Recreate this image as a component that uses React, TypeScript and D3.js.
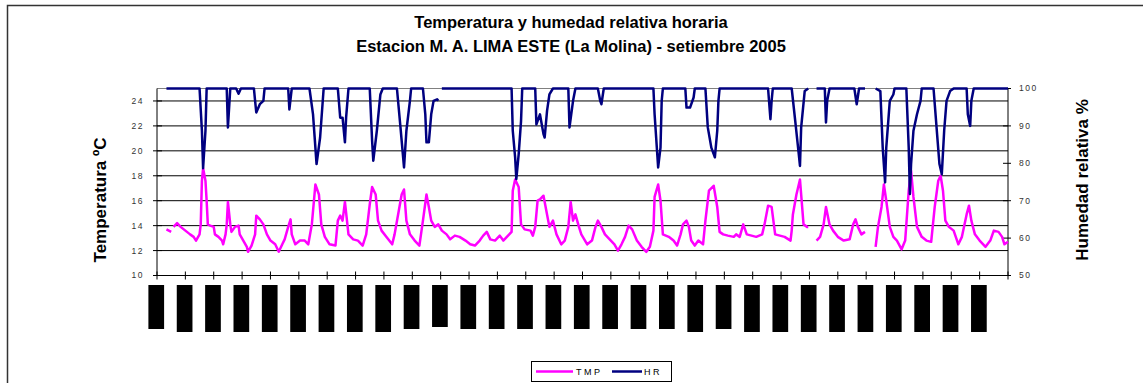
import React from 'react';
import * as d3 from 'd3';

const W = 1143;
const H = 383;

// Hourly samples (hour of month, 0..720); null = missing data
const tmpHours = [8, 12, 13, 14, 17, 20, 24, 28, 31, 33, 36, 37, 38, 39, 41, 42, 43, 45, 48, 49, 52, 55, 56, 58, 59, 60, 62, 63, 66, 69, 70, 73, 76, 77, 80, 83, 84, 87, 90, 93, 96, 100, 103, 106, 108, 111, 113, 114, 117, 121, 125, 128, 131, 134, 137, 139, 142, 146, 151, 153, 155, 157, 159, 162, 166, 170, 174, 177, 180, 182, 185, 187, 190, 194, 199, 201, 204, 207, 209, 211, 214, 218, 222, 225, 228, 230, 232, 235, 238, 241, 245, 248, 252, 256, 261, 265, 269, 273, 276, 279, 282, 286, 290, 293, 297, 300, 301, 303, 306, 308, 311, 316, 318, 320, 322, 324, 327, 330, 332, 335, 338, 342, 345, 348, 350, 352, 354, 357, 359, 364, 368, 371, 373, 376, 379, 383, 387, 390, 393, 396, 399, 402, 406, 410, 414, 417, 420, 421, 424, 426, 428, 433, 437, 440, 443, 445, 448, 450, 452, 455, 458, 462, 464, 467, 471, 474, 476, 479, 483, 488, 490, 493, 496, 499, 503, 507, 512, 514, 517, 520, 523, 527, 531, 536, 537, 538, 541, 544, 547, 550, 551, 554, 558, 561, 564, 566, 569, 572, 576, 581, 586, 589, 591, 593, 596, 599, 603, 608, 610, 613, 615, 617, 620, 623, 626, 630, 633, 636, 638, 640, 643, 647, 651, 655, 658, 661, 663, 665, 667, 670, 674, 678, 681, 685, 687, 689, 692, 696, 701, 705, 708, 712, 715, 717, 720];
const tmpValues = [13.7, 13.5, null, 13.9, 14.2, 13.9, 13.6, 13.3, 13.1, 12.8, 13.3, 14.1, 17.6, 18.6, 17.6, 16.0, 14.1, 14.0, 13.9, 13.3, 13.1, 12.8, 12.5, 13.3, 14.1, 15.9, 14.1, 13.5, 13.9, 14.0, 13.3, 12.8, 12.3, 11.9, 12.4, 13.3, 14.8, 14.5, 14.1, 13.3, 12.8, 12.5, 11.9, 12.5, 12.9, 13.9, 14.5, 13.3, 12.5, 12.8, 12.8, 12.5, 14.1, 17.3, 16.5, 14.1, 13.1, 12.5, 12.4, 14.4, 14.8, 14.4, 15.9, 13.3, 12.9, 12.8, 12.4, 13.3, 15.7, 17.1, 16.5, 14.4, 13.6, 13.1, 12.5, 13.3, 14.9, 16.5, 16.9, 14.4, 13.3, 12.8, 12.4, 14.4, 16.5, 15.5, 14.4, 13.9, 14.1, 13.6, 13.3, 12.9, 13.2, 13.1, 12.8, 12.5, 12.4, 12.8, 13.2, 13.5, 12.9, 12.8, 13.2, 12.8, 13.2, 13.5, 16.8, 17.7, 17.1, 14.1, 13.7, 13.6, 13.2, 13.9, 16.0, 16.1, 16.4, 14.9, 13.9, 14.4, 13.3, 12.5, 12.8, 13.9, 15.9, 14.4, 14.9, 13.9, 13.3, 12.5, 12.8, 13.9, 14.4, 13.9, 13.3, 12.9, 12.5, 12.0, 12.5, 13.1, 14.0, 13.7, 12.8, 12.3, 11.9, 12.3, 13.6, 16.3, 17.3, 16.0, 13.3, 13.1, 12.8, 12.4, 13.3, 14.1, 14.4, 13.9, 12.8, 12.4, 12.8, 12.5, 14.4, 16.8, 17.2, 15.5, 13.5, 13.3, 13.2, 13.1, 13.3, 13.1, 14.1, 13.3, 13.2, 13.1, 13.3, 14.1, 15.6, 15.5, 13.3, 13.2, 13.1, 12.8, 13.6, 14.9, 16.5, 17.7, 14.1, 13.9, 13.9, null, 12.8, 13.1, 14.1, 15.5, 14.1, 13.6, 13.1, 12.8, 12.9, 14.1, 14.5, 13.9, 13.3, 13.5, null, 12.3, 13.9, 15.5, 17.3, 16.0, 13.9, 13.1, 12.8, 12.1, 12.8, 16.8, 18.4, 16.3, 13.9, 13.1, 12.8, 12.7, 15.5, 17.6, 18.0, 16.8, 14.4, 13.9, 13.6, 12.5, 13.1, 14.9, 15.6, 14.4, 13.3, 12.8, 12.3, 12.8, 13.6, 13.5, 13.1, 12.5, 12.7];

const hrHours = [8, 36, 38, 39, 41, 42, 59, 60, 62, 67, 69, 71, 82, 83, 84, 87, 90, 91, 111, 112, 114, 129, 132, 135, 138, 141, 153, 155, 157, 159, 160, 162, 180, 182, 183, 186, 189, 191, 203, 206, 209, 211, 214, 215, 225, 227, 228, 230, 232, 234, 237, 238, 239, 241, 300, 301, 303, 304, 306, 308, 309, 320, 321, 324, 327, 328, 330, 332, 335, 348, 349, 352, 354, 373, 375, 376, 378, 420, 421, 424, 426, 427, 428, 447, 448, 451, 454, 455, 464, 466, 469, 472, 474, 475, 476, 517, 519, 520, 521, 537, 540, 543, 544, 545, 548, 551, 554, 558, 565, 566, 567, 569, 590, 592, 594, 599, 603, 608, 612, 614, 616, 617, 620, 623, 624, 634, 636, 637, 638, 640, 643, 646, 647, 657, 660, 662, 664, 666, 668, 671, 674, 685, 686, 688, 689, 691, 720];
const hrValues = [100, 100, 88.7, 78.7, 88.7, 100, 100, 89.6, 100, 100, 98.6, 100, 100, 96.7, 93.6, 95.8, 96.7, 100, 100, 94.4, 100, 100, 93.1, 79.8, 86.9, 100, 100, 92.2, 92.2, 85.6, 92.2, 100, 100, 86.0, 80.7, 88.7, 98.4, 100, 100, 89.6, 78.9, 88.7, 96.7, 100, 100, 93.1, 85.6, 85.6, 93.1, 96.7, 97.1, 96.7, null, 100, 100, 88.7, 81.6, 75.8, 82.4, 91.3, 100, 100, 90.4, 93.1, 87.8, 86.9, 94.0, 98.4, 100, 100, 89.6, 96.7, 100, 100, 96.7, 95.8, 100, 100, 93.1, 78.9, 84.2, 96.7, 100, 100, 94.9, 94.9, 97.6, 100, 100, 89.6, 84.2, 81.6, 88.7, 96.7, 100, 100, 91.8, 96.7, 100, 100, 91.3, 82.4, 79.3, 89.6, 99.3, 100, null, 100, 100, 90.9, 96.7, 100, 100, 95.8, 100, 100, null, 100, 99.3, 84.2, 74.9, 84.2, 96.7, 98.4, 100, 100, 84.2, 71.8, 79.8, 88.7, 93.1, 96.7, 100, 100, 87.8, 79.8, 77.1, 88.7, 96.7, 99.3, 100, 100, 93.1, 90.0, 96.7, 100, 100];

const tempTicks = [10, 12, 14, 16, 18, 20, 22, 24];
const hrTicks = [50, 60, 70, 80, 90, 100];
const dayStarts = d3.range(0, 31); // day boundaries (September has 30 days)
// the category labels of the original render as solid black blocks; their lengths in px
const labelBlockLen = [44, 47, 47, 47, 47, 47, 47, 47, 47, 44, 42, 44, 44, 44, 44, 44, 44, 44, 44, 47, 44, 47, 47, 47, 47, 47, 47, 47, 47, 47];

const titleLines = ['Temperatura y humedad relativa horaria', 'Estacion M. A. LIMA ESTE (La Molina) - setiembre 2005'];

const FONT = 'Arial, "Liberation Sans", Helvetica, sans-serif';

export default function App() {
  const left = 157, right = 1008, top = 88.5, bottom = 275.5;
  const x = d3.scaleLinear().domain([0, 720]).range([left, right]);
  const yT = d3.scaleLinear().domain([10, 25]).range([bottom, top]);
  const yH = d3.scaleLinear().domain([50, 100]).range([bottom, top]);

  const tmpData = tmpHours.map((h, i) => ({ h, v: tmpValues[i] }));
  const hrData = hrHours.map((h, i) => ({ h, v: hrValues[i] }));

  const tmpLine = d3.line<any>().defined(d => d.v != null).x(d => x(d.h)).y(d => yT(d.v));
  const hrLine = d3.line<any>().defined(d => d.v != null).x(d => x(d.h)).y(d => yH(d.v));

  return (
    <svg width={W} height={H} style={{ position: 'absolute', left: 0, top: 0, background: '#fff' }} fontFamily={FONT}>
      <rect x={0} y={0} width={W} height={H} fill="#fff" />
      {/* outer chart border */}
      <rect x={7.5} y={5.5} width={1300} height={500} fill="none" stroke="#333" strokeWidth={1.5} />

      {/* title */}
      {titleLines.map((t, i) => (
        <text key={i} x={571} y={28 + i * 24} textAnchor="middle" fontSize={16.5} fontWeight="bold" fill="#000">{t}</text>
      ))}

      {/* gridlines */}
      <line x1={left} x2={right} y1={top} y2={top} stroke="#808080" strokeWidth={1} />
      {tempTicks.filter(t => t > 10).map(t => (
        <line key={t} x1={left} x2={right} y1={yT(t)} y2={yT(t)} stroke="#000" strokeWidth={1} />
      ))}

      {/* axes */}
      <line x1={left} x2={left} y1={top} y2={bottom} stroke="#000" strokeWidth={1} />
      <line x1={right} x2={right} y1={top} y2={bottom} stroke="#000" strokeWidth={1} />
      <line x1={left} x2={right} y1={bottom} y2={bottom} stroke="#000" strokeWidth={1} />

      {/* x ticks */}
      {dayStarts.map(d => (
        <line key={d} x1={x(d * 24)} x2={x(d * 24)} y1={bottom - 4} y2={bottom + 4} stroke="#000" strokeWidth={1} />
      ))}

      {/* left ticks & labels */}
      {tempTicks.map(t => (
        <g key={t}>
          <line x1={left - 4} x2={left + 5} y1={yT(t)} y2={yT(t)} stroke="#000" strokeWidth={1} />
          <text x={144} y={yT(t)} dy="0.35em" textAnchor="end" fontSize={8.5} letterSpacing={1.5} fill="#333">{t}</text>
        </g>
      ))}

      {/* right ticks & labels */}
      {hrTicks.map(t => (
        <g key={t}>
          <line x1={right - 5} x2={right + 3} y1={yH(t)} y2={yH(t)} stroke="#000" strokeWidth={1} />
          <text x={1019} y={yH(t)} dy="0.35em" textAnchor="start" fontSize={8.5} letterSpacing={1.5} fill="#333">{t}</text>
        </g>
      ))}

      {/* category label blocks */}
      {labelBlockLen.map((len, i) => (
        <rect key={i} x={x(i * 24) - 8.6} y={285} width={15.7} height={len} fill="#000" />
      ))}

      {/* axis titles */}
      <text transform={`translate(106,200) rotate(-90)`} textAnchor="middle" fontSize={17} fontWeight="bold" fill="#000">Temperatura ºC</text>
      <text transform={`translate(1088,180) rotate(-90)`} textAnchor="middle" fontSize={17} fontWeight="bold" fill="#000">Humedad relativa %</text>

      {/* series */}
      <path d={tmpLine(tmpData) || ''} fill="none" stroke="#FF00FF" strokeWidth={2.5} strokeLinejoin="round" />
      <path d={hrLine(hrData) || ''} fill="none" stroke="#000080" strokeWidth={2.5} strokeLinejoin="round" />

      {/* legend */}
      <rect x={531.5} y={361.5} width={140} height={20} fill="#fff" stroke="#000" strokeWidth={1} />
      <line x1={536} x2={573} y1={371.5} y2={371.5} stroke="#FF00FF" strokeWidth={2.5} />
      <text x={576} y={371.5} dy="0.35em" fontSize={9} letterSpacing={2.5} fill="#000">TMP</text>
      <line x1={612} x2={642} y1={371.5} y2={371.5} stroke="#000080" strokeWidth={2.5} />
      <text x={644} y={371.5} dy="0.35em" fontSize={9} letterSpacing={2.5} fill="#000">HR</text>
    </svg>
  );
}
